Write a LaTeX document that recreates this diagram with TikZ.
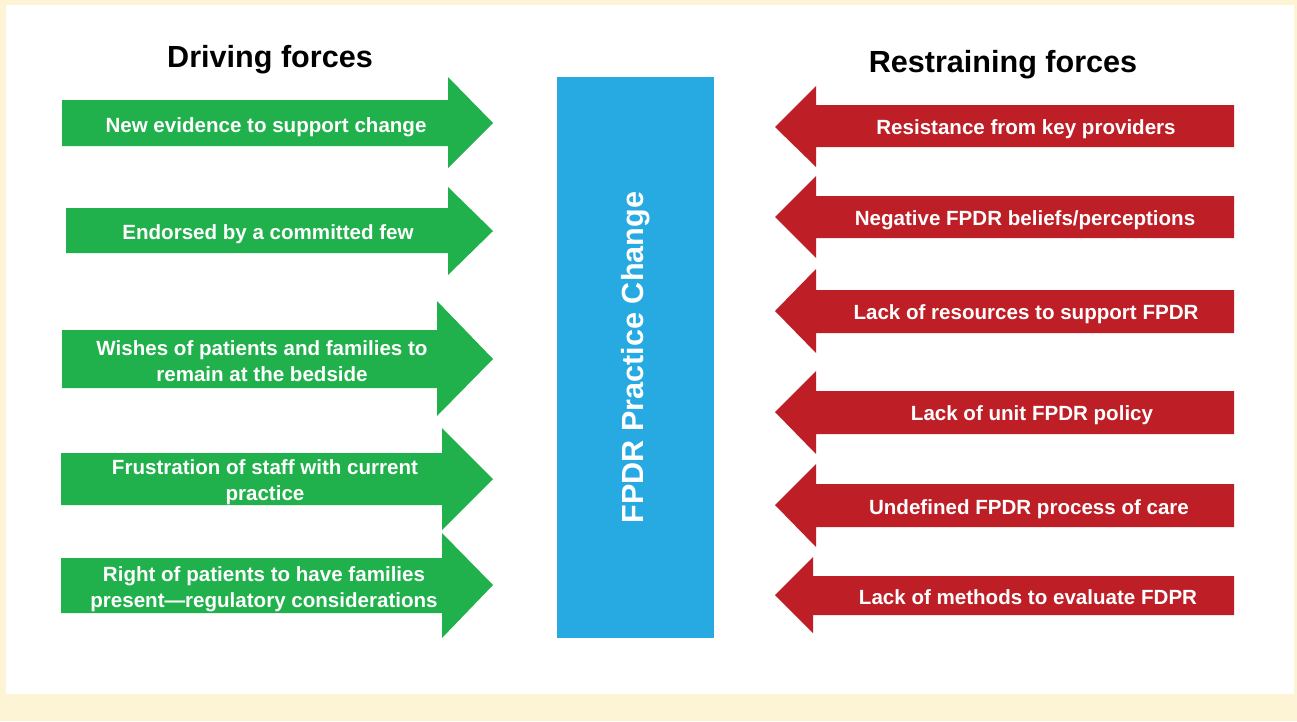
\documentclass[tikz,border=0pt]{standalone}
\usepackage{fontspec}
\setmainfont{Liberation Sans}
\usepackage{tikz}
\usetikzlibrary{math}
\definecolor{cream}{RGB}{253,243,213}
\definecolor{drivegreen}{RGB}{33,177,76}
\definecolor{restrainred}{RGB}{190,30,38}
\definecolor{changeblue}{RGB}{39,170,225}
\tikzstyle{drive} = [fill=drivegreen]
\tikzstyle{restrain} = [fill=restrainred]
\tikzstyle{forcetext} = [text=white, font=\bfseries\fontsize{11.7}{14.8}\selectfont, align=center, inner sep=0pt, anchor=base]
\tikzstyle{heading} = [font=\bfseries\fontsize{17.4}{20}\selectfont, inner sep=0pt, anchor=base]

\begin{document}
\begin{tikzpicture}[x=0.02cm, y=-0.02cm]

  \tikzmath{\dtip = 493; \rtip = 775; \rback = 816; \rend = 1234;}

  % frame
  \fill[cream] (0,0) rectangle (1297,721);
  \fill[white] (6,5) rectangle (1294,694);

  % headings
  \node[heading] (driving) at (270,67) {Driving forces};
  \node[heading] (restraining) at (1003,72) {Restraining forces};

  % driving forces
  \fill[drive] (62,100) -- (448,100) -- (448,77) -- (\dtip,123) -- (448,168) -- (448,146) -- (62,146) -- cycle;
  \fill[drive] (66,208) -- (448,208) -- (448,187) -- (\dtip,231) -- (448,275) -- (448,253) -- (66,253) -- cycle;
  \fill[drive] (62,330) -- (437,330) -- (437,301) -- (\dtip,359) -- (437,416) -- (437,388) -- (62,388) -- cycle;
  \fill[drive] (61,453) -- (442,453) -- (442,428) -- (\dtip,479) -- (442,530) -- (442,505) -- (61,505) -- cycle;
  \fill[drive] (61,558) -- (442,558) -- (442,533) -- (\dtip,585) -- (442,638) -- (442,613) -- (61,613) -- cycle;

  % base of a two-line label is its last line
  \node[forcetext] (d1) at (266,132) {New evidence to support change};
  \node[forcetext] (d2) at (268,239) {Endorsed by a committed few};
  \node[forcetext] (d3) at (262,381) {Wishes of patients and families to\\remain at the bedside};
  \node[forcetext] (d4) at (265,500) {Frustration of staff with current\\practice};
  \node[forcetext] (d5) at (264,607) {Right of patients to have families\\present---regulatory considerations};

  % the change
  \fill[changeblue] (557,77) rectangle (714,638);
  \node[heading, anchor=center, text=white, rotate=90] (change) at (635.5,357.5) {FPDR Practice Change};

  % restraining forces
  \fill[restrain] (\rend,105) -- (\rback,105) -- (\rback,86) -- (\rtip,127) -- (\rback,167) -- (\rback,147) -- (\rend,147) -- cycle;
  \fill[restrain] (\rend,196) -- (\rback,196) -- (\rback,176) -- (\rtip,217) -- (\rback,258) -- (\rback,238) -- (\rend,238) -- cycle;
  \fill[restrain] (\rend,290) -- (\rback,290) -- (\rback,269) -- (\rtip,311) -- (\rback,353) -- (\rback,333) -- (\rend,333) -- cycle;
  \fill[restrain] (\rend,391) -- (\rback,391) -- (\rback,371) -- (\rtip,412) -- (\rback,454) -- (\rback,434) -- (\rend,434) -- cycle;
  \fill[restrain] (\rend,484) -- (\rback,484) -- (\rback,464) -- (\rtip,505) -- (\rback,547) -- (\rback,527) -- (\rend,527) -- cycle;
  \fill[restrain] (\rend,576) -- (813,576) -- (813,557) -- (\rtip,595) -- (813,633) -- (813,615) -- (\rend,615) -- cycle;

  \node[forcetext] (r1) at (1026,134) {Resistance from key providers};
  \node[forcetext] (r2) at (1025,225) {Negative FPDR beliefs/perceptions};
  \node[forcetext] (r3) at (1026,319) {Lack of resources to support FPDR};
  \node[forcetext] (r4) at (1032,420) {Lack of unit FPDR policy};
  \node[forcetext] (r5) at (1029,514) {Undefined FPDR process of care};
  \node[forcetext] (r6) at (1028,604) {Lack of methods to evaluate FDPR};

\end{tikzpicture}
\end{document}
